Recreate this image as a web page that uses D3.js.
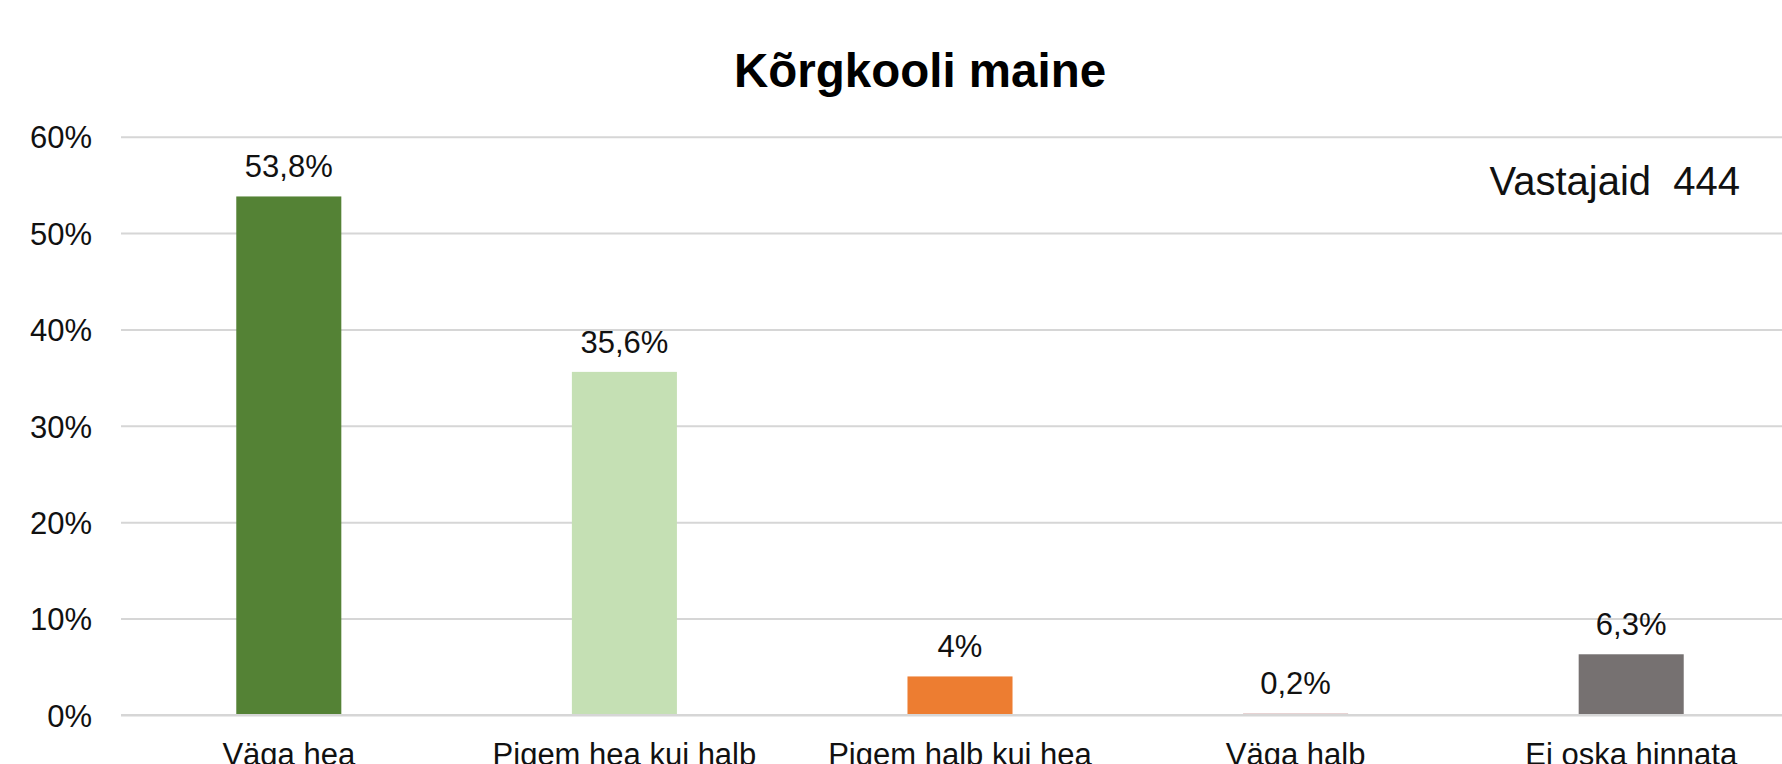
<!DOCTYPE html>
<html>
<head>
<meta charset="utf-8">
<script src="https://cdn.jsdelivr.net/npm/d3@7"></script>
<style>
  html, body { margin: 0; padding: 0; background: #fff; overflow: hidden; }
  svg { display: block; font-family: "Liberation Sans", Arial, sans-serif; }
</style>
</head>
<body>
<div id="chart"></div>
<script>
// chart data
const categories = ['Väga hea', 'Pigem hea kui halb', 'Pigem halb kui hea', 'Väga halb', 'Ei oska hinnata'];
const values = [53.8, 35.6, 4, 0.2, 6.3];
const barColors = ['#548235', '#C5E0B4', '#ED7D31', '#E6D0D0', '#767171'];
const yTicks = [0, 10, 20, 30, 40, 50, 60];
const chartTitle = 'Kõrgkooli maine';
const respondents = 'Vastajaid  444';

const width = 1782, height = 764;
const margin = { left: 121, right: -17, top: 136.7, bottom: 49 };

const svg = d3.select('#chart').append('svg')
    .attr('width', width)
    .attr('height', height);

const x = d3.scaleBand()
    .domain(categories)
    .range([margin.left, width - margin.right])
    .paddingInner(0.687)
    .paddingOuter(0.3435);

const y = d3.scaleLinear()
    .domain([0, 60])
    .range([height - margin.bottom, margin.top]);

const locale = d3.formatLocale({ decimal: ',', thousands: ' ', grouping: [3], currency: ['', '€'] });
const labelFmt = locale.format('.1~f');

// gridlines + y labels
const yAxis = svg.append('g')
    .attr('transform', 'translate(' + margin.left + ',0)')
    .call(d3.axisLeft(y)
        .tickValues(yTicks)
        .tickSize(-(width - margin.right - margin.left))
        .tickPadding(29)
        .tickFormat(d => d + '%'));
yAxis.select('.domain').remove();
yAxis.selectAll('.tick line')
    .attr('stroke', '#d6d6d6')
    .attr('stroke-width', 2);
yAxis.selectAll('.tick text')
    .attr('fill', '#111')
    .attr('font-size', 31)
    .attr('dy', '0.36em');

// bars
svg.selectAll('.bar')
    .data(values)
    .enter()
    .append('rect')
    .attr('class', 'bar')
    .attr('x', (d, i) => x(categories[i]))
    .attr('y', d => y(d))
    .attr('width', x.bandwidth())
    .attr('height', d => y(0) - y(d))
    .attr('fill', (d, i) => barColors[i]);

// axis line at 0 drawn over bars
svg.append('line')
    .attr('x1', margin.left)
    .attr('x2', width)
    .attr('y1', y(0))
    .attr('y2', y(0))
    .attr('stroke', '#d6d6d6')
    .attr('stroke-width', 2);

// value labels
svg.selectAll('.val')
    .data(values)
    .enter()
    .append('text')
    .attr('class', 'val')
    .attr('x', (d, i) => x(categories[i]) + x.bandwidth() / 2)
    .attr('y', d => y(d) - 19)
    .attr('text-anchor', 'middle')
    .attr('font-size', 31)
    .attr('fill', '#111')
    .text(d => labelFmt(d) + '%');

// category labels (bottom cut by the frame, as in the original)
const xAxis = svg.append('g')
    .attr('transform', 'translate(0,' + y(0) + ')')
    .call(d3.axisBottom(x).tickSize(0).tickPadding(0));
xAxis.select('.domain').remove();
xAxis.selectAll('.tick text')
    .attr('y', 50)
    .attr('dy', 0)
    .attr('fill', '#111')
    .attr('font-size', 31);

// title
svg.append('text')
    .attr('x', 920)
    .attr('y', 87)
    .attr('text-anchor', 'middle')
    .attr('font-size', 47.5)
    .attr('font-weight', 'bold')
    .attr('fill', '#000')
    .text(chartTitle);

svg.append('text')
    .attr('x', 1740)
    .attr('y', 195)
    .attr('text-anchor', 'end')
    .attr('font-size', 40)
    .attr('fill', '#111')
    .style('white-space', 'pre')
    .text(respondents);
</script>
</body>
</html>
